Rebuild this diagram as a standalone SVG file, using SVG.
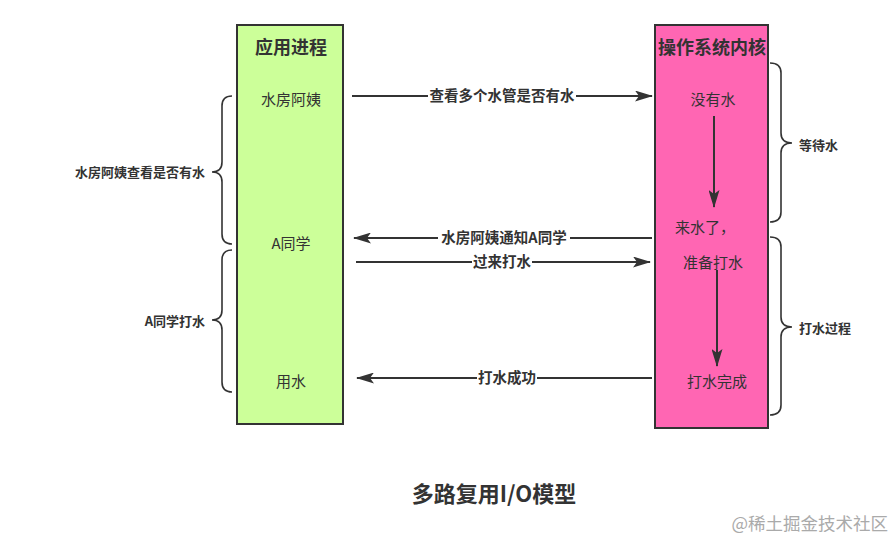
<svg xmlns="http://www.w3.org/2000/svg" width="895" height="540" viewBox="0 0 895 540">
<defs>
<marker id="ahb" markerWidth="18" markerHeight="11" refX="17" refY="5.5" orient="auto" markerUnits="userSpaceOnUse">
<path d="M0,0 L18,5.5 L0,11 L4,5.5 Z" fill="#333"/>
</marker>
</defs>
<style>
text{font-family:"Noto Sans CJK SC","Liberation Sans",sans-serif;fill:#333;}
.t{font-size:15px;text-anchor:middle;}
.h{font-size:18px;font-weight:bold;text-anchor:middle;}
.l{font-size:14.5px;font-weight:bold;text-anchor:middle;}
.b{font-size:13px;font-weight:bold;}
.e{stroke:#333;stroke-width:2;fill:none;}
.br{stroke:#333;stroke-width:1.6;fill:none;}
.lb{fill:#fff;}
</style>
<rect width="895" height="540" fill="#fff"/>
<g id="app">
<rect x="237" y="25" width="106" height="399" fill="#CCFF99" stroke="#333" stroke-width="2"/>
<text class="h" x="291" y="54">应用进程</text>
<text class="t" x="291" y="105">水房阿姨</text>
<text class="t" x="291" y="249">A同学</text>
<text class="t" x="291" y="387">用水</text>
</g>
<g id="kernel">
<rect x="655" y="25" width="113" height="403" fill="#FF66B3" stroke="#333" stroke-width="2"/>
<text class="h" x="712" y="54">操作系统内核</text>
<text class="t" x="713" y="105">没有水</text>
<text class="t" x="705" y="233">来水了，</text>
<text class="t" x="713" y="268">准备打水</text>
<text class="t" x="717" y="387">打水完成</text>
</g>
<g id="connectors">
<line class="e" x1="352" y1="96" x2="652" y2="96" marker-end="url(#ahb)"/>
<rect class="lb" x="428" y="88" width="148" height="16"/>
<text class="l" x="502" y="101">查看多个水管是否有水</text>
<line class="e" x1="652" y1="238" x2="354" y2="238" marker-end="url(#ahb)"/>
<rect class="lb" x="438" y="230" width="132" height="16"/>
<text class="l" x="504" y="243">水房阿姨通知A同学</text>
<line class="e" x1="356" y1="262" x2="650" y2="262" marker-end="url(#ahb)"/>
<rect class="lb" x="472" y="254" width="60" height="16"/>
<text class="l" x="502" y="267">过来打水</text>
<line class="e" x1="652" y1="378" x2="357" y2="378" marker-end="url(#ahb)"/>
<rect class="lb" x="477" y="370" width="60" height="16"/>
<text class="l" x="507" y="383">打水成功</text>
<line class="e" x1="714" y1="116" x2="714" y2="207" marker-end="url(#ahb)"/>
<line class="e" x1="717" y1="270" x2="717" y2="366" marker-end="url(#ahb)"/>
</g>
<g id="braces">
<path class="br" d="M232,96 Q222,96 222,106 L222,162 Q222,172 212,172 Q222,172 222,182 L222,234 Q222,244 232,244"/>
<path class="br" d="M232,250 Q222,250 222,260 L222,310 Q222,320 212,320 Q222,320 222,330 L222,382 Q222,392 232,392"/>
<path class="br" d="M770,63 Q781,63 781,73 L781,133 Q781,143 792,143 Q781,143 781,153 L781,212 Q781,222 770,222"/>
<path class="br" d="M770,237 Q781,237 781,247 L781,317 Q781,327 792,327 Q781,327 781,337 L781,405 Q781,415 770,415"/>
<text class="b" x="205" y="177" text-anchor="end">水房阿姨查看是否有水</text>
<text class="b" x="205" y="326" text-anchor="end">A同学打水</text>
<text class="b" x="799" y="150">等待水</text>
<text class="b" x="799" y="333">打水过程</text>
</g>
<text x="494" y="502" style="font-size:22px;font-weight:bold;text-anchor:middle">多路复用I/O模型</text>
<text x="888" y="530" style="font-size:17.5px;text-anchor:end;fill:#aaa">@稀土掘金技术社区</text>
</svg>
